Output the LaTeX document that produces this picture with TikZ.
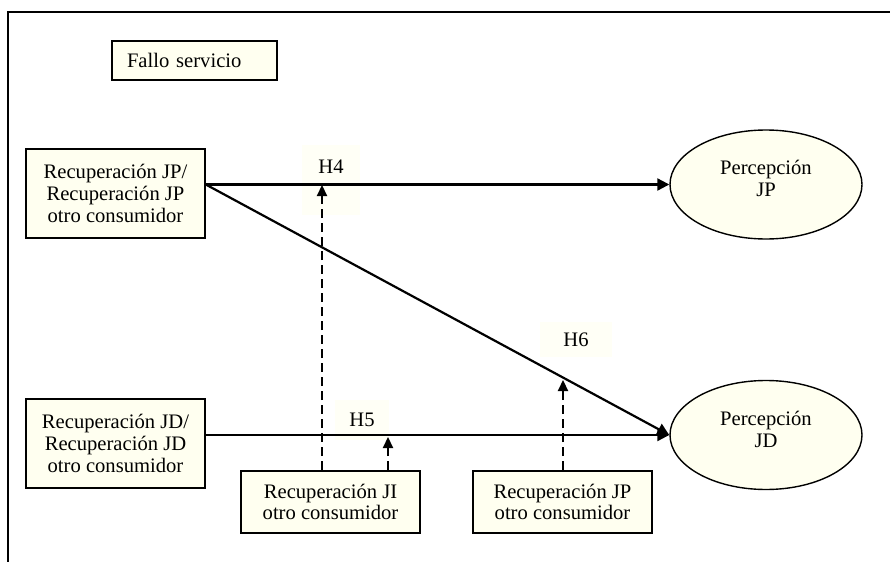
\documentclass[tikz,border=0pt]{standalone}
\usepackage{fontspec}
\setmainfont{Liberation Serif}
\usepackage{xcolor}
\usetikzlibrary{shapes.geometric, arrows.meta}
\definecolor{crema}{HTML}{FFFFF0}
\definecolor{cremaclaro}{HTML}{FFFFF6}

\begin{document}
\begin{tikzpicture}[x=0.5pt, y=-0.5pt,
    font=\fontsize{10.3}{10.85}\selectfont,
    caja/.style={fill=crema, draw, line width=0.8pt, align=center, inner sep=0pt, minimum width=89.5pt},
    elipse/.style={ellipse, fill=crema, draw, line width=0.7pt, align=center, inner sep=0pt, minimum width=96pt, minimum height=54.5pt, text depth=6pt},
    etiqueta/.style={fill=cremaclaro, inner xsep=0pt, text height=6.6pt, text depth=0pt},
    flecha/.style={line width=1.1pt, -{Triangle[length=6pt, width=6pt]}},
    discontinua/.style={line width=1.1pt, dash pattern=on 4.5pt off 2.5pt, -{Triangle[length=5.5pt, width=5pt]}}]
    \useasboundingbox (0,0) rectangle (890,562);
    \draw[line width=0.6pt] (890,12) -- (8,12) -- (8,562);

    % hipotesis
    \node[etiqueta, minimum width=29pt, inner ysep=7.2pt, text depth=14pt, anchor=north] (h4) at (331,145) {H4};
    \node[etiqueta, minimum width=27pt, inner ysep=6.7pt] (h5) at (362,420) {H5};
    \node[etiqueta, minimum width=36pt, inner ysep=5.45pt] (h6) at (576,339.5) {H6};

    \node[caja, text width=67.5pt, align=left, inner xsep=7.5pt, minimum width=82.5pt, minimum height=19.5pt]
        (fallo) at (194.5,60.5) {Fallo servicio};
    \node[caja, minimum height=44.5pt] (rjp) at (115.5,193.5) {Recuperación JP/\\Recuperación JP\\otro consumidor};
    \node[caja, minimum height=44.5pt] (rjd) at (115.5,443.5) {Recuperación JD/\\Recuperación JD\\otro consumidor};
    \node[caja, minimum height=31pt] (rji) at (330.5,502) {Recuperación JI\\otro consumidor};
    \node[caja, minimum height=31pt] (rjpo) at (562.5,502) {Recuperación JP\\otro consumidor};
    \node[elipse] (pjp) at (766,184.5) {Percepción\\JP};
    \node[elipse] (pjd) at (766,435) {Percepción\\JD};

    \draw[flecha] (rjp.east |- pjp.west) -- (pjp.west);
    \draw[flecha] (rjp.east |- pjp.west) -- (pjd.west);
    \draw[flecha] (rjd.east |- pjd.west) -- (pjd.west);

    % moderadores
    \coordinate (c4) at (322,185);
    \coordinate (c5) at (388,437);
    \coordinate (c6) at (563,380);
    \draw[discontinua] (rji.north -| c4) -- (c4);
    \draw[discontinua] (rji.north -| c5) -- (c5);
    \draw[discontinua] (rjpo.north -| c6) -- (c6);
\end{tikzpicture}
\end{document}
